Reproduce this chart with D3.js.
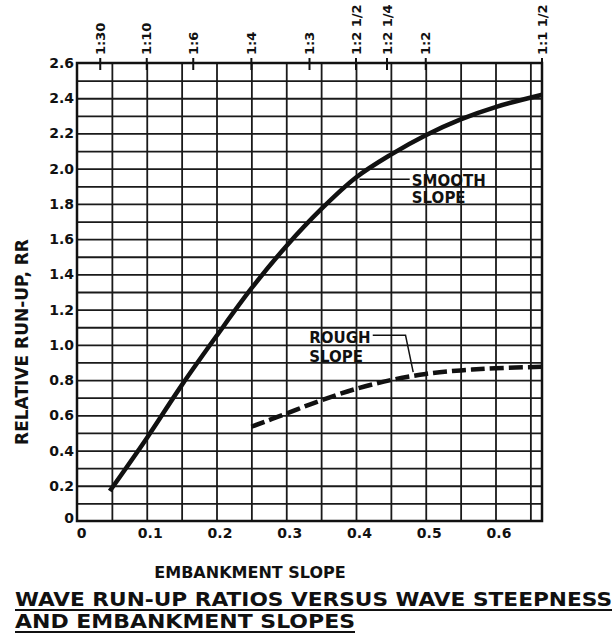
<!DOCTYPE html>
<html>
<head>
<meta charset="utf-8">
<script src="https://cdn.jsdelivr.net/npm/d3@7"></script>
<style>
  body { margin: 0; background: #fff; }
  svg text { font-family: "DejaVu Sans", sans-serif; font-weight: bold; fill: #111; }
</style>
</head>
<body>
<svg id="chart"></svg>
<script>
//======
// Data
//======

// embankment slope (x) vs relative run-up RR (y)
var smoothX = [0.047, 0.1, 0.15, 0.2, 0.25, 0.3, 0.35, 0.4, 0.45, 0.5, 0.55, 0.6, 0.667];
var smoothY = [0.17, 0.47, 0.77, 1.05, 1.32, 1.56, 1.77, 1.95, 2.08, 2.19, 2.28, 2.35, 2.42];

var roughX = [0.25, 0.3, 0.35, 0.4, 0.45, 0.5, 0.55, 0.6, 0.667];
var roughY = [0.535, 0.61, 0.685, 0.75, 0.8, 0.835, 0.855, 0.867, 0.875];

// slope ratios along the top edge
var topTicks = [1 / 30, 1 / 10, 1 / 6, 1 / 4, 1 / 3, 1 / 2.5, 1 / 2.25, 1 / 2, 1 / 1.5];
var topLabels = ["1:30", "1:10", "1:6", "1:4", "1:3", "1:2 1/2", "1:2 1/4", "1:2", "1:1 1/2"];

var xTicks = [0, 0.1, 0.2, 0.3, 0.4, 0.5, 0.6];
var yTicks = [0, 0.2, 0.4, 0.6, 0.8, 1.0, 1.2, 1.4, 1.6, 1.8, 2.0, 2.2, 2.4, 2.6];
var xGrid = d3.range(1, 14).map(function(i) { return i * 0.05; });
var yGrid = d3.range(1, 26).map(function(i) { return i / 10; });

//=======
// Chart
//=======

function buildChart() {
  var width = 613,
    height = 634,
    left = 77,
    right = 542,
    plotTop = 63,
    bottom = 521;

  var svg = d3.select("#chart")
    .attr("width", width)
    .attr("height", height);

  var x = d3.scaleLinear().domain([0, 2 / 3]).range([left, right]);
  var y = d3.scaleLinear().domain([0, 2.6]).range([bottom, plotTop]);

  // grid
  svg.append("g")
    .attr("transform", "translate(0," + bottom + ")")
    .call(d3.axisBottom(x).tickValues(xGrid).tickSize(-(bottom - plotTop)).tickFormat(""))
    .call(function(g) { g.select(".domain").remove(); })
    .selectAll("line").attr("stroke", "#1a1a1a").attr("stroke-width", 1.8);

  svg.append("g")
    .attr("transform", "translate(" + left + ",0)")
    .call(d3.axisLeft(y).tickValues(yGrid).tickSize(-(right - left)).tickFormat(""))
    .call(function(g) { g.select(".domain").remove(); })
    .selectAll("line").attr("stroke", "#1a1a1a").attr("stroke-width", 1.8);

  // frame
  svg.append("rect")
    .attr("x", left).attr("y", plotTop)
    .attr("width", right - left).attr("height", bottom - plotTop)
    .attr("fill", "none").attr("stroke", "#111").attr("stroke-width", 2.5);

  // x tick labels
  var xAxis = svg.append("g")
    .attr("transform", "translate(0," + bottom + ")")
    .call(d3.axisBottom(x).tickValues(xTicks).tickSize(0).tickPadding(7)
      .tickFormat(function(d) { return d === 0 ? "0" : d3.format(".1f")(d); }));
  xAxis.select(".domain").remove();
  xAxis.selectAll("text").attr("font-size", 14).attr("fill", "#111")
    .attr("font-family", "DejaVu Sans").attr("font-weight", "bold")
    .attr("dx", function(d) { return d === 0 ? 4 : 3; });

  // y tick labels
  var yAxis = svg.append("g")
    .attr("transform", "translate(" + (left - 2) + ",0)")
    .call(d3.axisLeft(y).tickValues(yTicks).tickSize(0).tickPadding(1)
      .tickFormat(function(d) { return d === 0 ? "0" : d3.format(".1f")(d); }));
  yAxis.select(".domain").remove();
  yAxis.selectAll("text").attr("font-size", 14).attr("fill", "#111")
    .attr("font-family", "DejaVu Sans").attr("font-weight", "bold")
    .attr("dy", function(d) { return d === 0 ? "0.1em" : "0.32em"; });

  // top slope ticks + labels
  var topG = svg.append("g");
  topG.selectAll("line")
    .data(topTicks)
    .enter()
    .append("line")
    .attr("x1", function(d) { return x(d); })
    .attr("x2", function(d) { return x(d); })
    .attr("y1", plotTop - 5)
    .attr("y2", plotTop + 7)
    .attr("stroke", "#111")
    .attr("stroke-width", 2);

  topG.selectAll("text")
    .data(topTicks)
    .enter()
    .append("text")
    .attr("transform", function(d) { return "translate(" + (x(d) + 4.5) + "," + (plotTop - 8) + ") rotate(-90)"; })
    .attr("font-size", 13)
    .text(function(d, i) { return topLabels[i]; });

  // curves
  var line = d3.line()
    .x(function(d) { return x(d[0]); })
    .y(function(d) { return y(d[1]); })
    .curve(d3.curveCatmullRom.alpha(0.5));

  svg.append("path")
    .datum(d3.zip(smoothX, smoothY))
    .attr("d", line)
    .attr("fill", "none")
    .attr("stroke", "#111")
    .attr("stroke-width", 4.5);

  svg.append("path")
    .datum(d3.zip(roughX, roughY))
    .attr("d", line)
    .attr("fill", "none")
    .attr("stroke", "#111")
    .attr("stroke-width", 4.5)
    .attr("stroke-dasharray", "14,5");

  // curve labels with leaders
  svg.append("line")
    .attr("x1", x(0.405)).attr("y1", y(1.94))
    .attr("x2", x(0.477)).attr("y2", y(1.94))
    .attr("stroke", "#111").attr("stroke-width", 1.5);
  svg.append("text").attr("x", x(0.48)).attr("y", y(1.9)).attr("font-size", 15).text("SMOOTH");
  svg.append("text").attr("x", x(0.48)).attr("y", y(1.805)).attr("font-size", 15).text("SLOPE");

  svg.append("polyline")
    .attr("points", [[x(0.424), y(1.055)], [x(0.471), y(1.055)], [x(0.482), y(0.845)]].join(" "))
    .attr("fill", "none").attr("stroke", "#111").attr("stroke-width", 1.5);
  svg.append("text").attr("x", x(0.333)).attr("y", y(1.01)).attr("font-size", 15).text("ROUGH");
  svg.append("text").attr("x", x(0.333)).attr("y", y(0.905)).attr("font-size", 15).text("SLOPE");

  // axis titles
  svg.append("text")
    .attr("transform", "translate(28,342) rotate(-90)")
    .attr("text-anchor", "middle")
    .attr("font-size", 17)
    .text("RELATIVE RUN-UP, RR");

  svg.append("text")
    .attr("x", 250).attr("y", 578)
    .attr("text-anchor", "middle")
    .attr("font-size", 16)
    .text("EMBANKMENT SLOPE");

  // title
  var title = [
    { text: "WAVE RUN-UP RATIOS VERSUS WAVE STEEPNESS", y: 606, w: 597 },
    { text: "AND EMBANKMENT SLOPES", y: 628, w: 340 }
  ];
  title.forEach(function(t) {
    svg.append("text")
      .attr("x", 15).attr("y", t.y)
      .attr("font-size", 19)
      .attr("textLength", t.w)
      .attr("lengthAdjust", "spacingAndGlyphs")
      .text(t.text);
    svg.append("line")
      .attr("x1", 15).attr("x2", 15 + t.w)
      .attr("y1", t.y + 4).attr("y2", t.y + 4)
      .attr("stroke", "#111").attr("stroke-width", 1.8);
  });
}

buildChart();
</script>
</body>
</html>
